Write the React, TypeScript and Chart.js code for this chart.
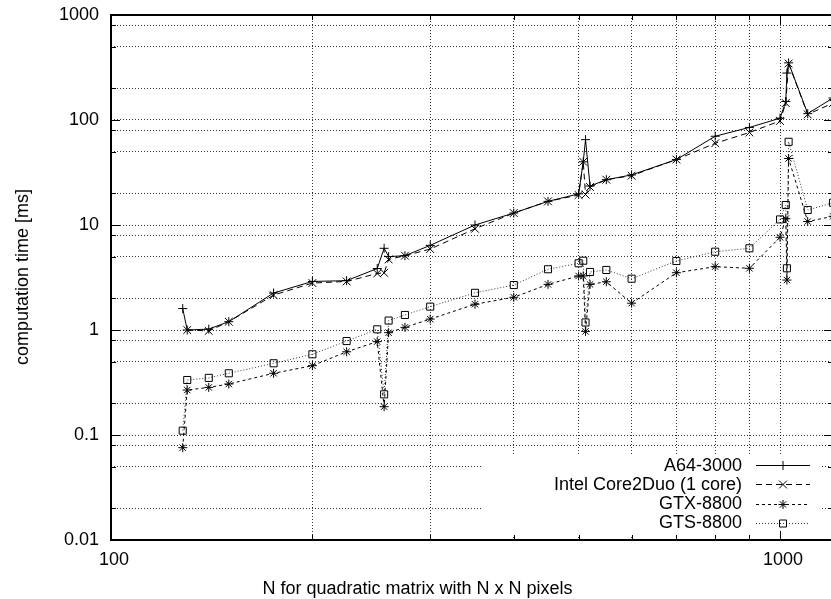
import React, { useEffect, useRef } from 'react';
import { Chart, registerables } from 'chart.js';

Chart.register(...registerables);

// ---- data (N, time in ms) ----
const seriesNames = ['A64-3000', 'Intel Core2Duo (1 core)', 'GTX-8800', 'GTS-8800'];

const a64N = [128, 130, 140, 150, 175, 200, 225, 250, 256, 260, 275, 300, 350, 400, 450, 500, 508, 512, 520, 550, 600, 700, 800, 900, 1000, 1020, 1024, 1030, 1100, 1200];
const a64T = [1.6, 1.0, 1.02, 1.2, 2.25, 2.9, 2.95, 3.85, 6.0, 5.0, 5.1, 6.4, 10, 13, 16.8, 19.8, 40, 65, 23.5, 27, 30, 42, 70, 85, 104, 150, 280, 350, 115, 162];

const core2N = [130, 140, 150, 175, 200, 225, 250, 256, 260, 275, 300, 350, 400, 450, 500, 508, 512, 520, 550, 600, 700, 800, 900, 1000, 1020, 1030, 1100, 1200];
const core2T = [1.0, 0.98, 1.2, 2.15, 2.8, 2.9, 3.45, 3.5, 4.7, 5.1, 5.9, 9.2, 13, 16.8, 19.3, 40, 19.5, 23, 27, 29.5, 42, 60, 76, 98, 145, 345, 113, 145];

const gpuN = [128, 130, 140, 150, 175, 200, 225, 250, 256, 260, 275, 300, 350, 400, 450, 500, 508, 512, 520, 550, 600, 700, 800, 900, 1000, 1020, 1024, 1030, 1100, 1200];
const gtxT = [0.0757, 0.268, 0.284, 0.306, 0.387, 0.457, 0.62, 0.775, 0.186, 0.943, 1.06, 1.27, 1.76, 2.05, 2.72, 3.27, 3.27, 0.97, 2.72, 2.88, 1.8, 3.51, 4.01, 3.87, 7.64, 11.5, 2.99, 43, 10.8, 12.1];
const gtsT = [0.11, 0.334, 0.35, 0.387, 0.482, 0.587, 0.785, 1.015, 0.244, 1.23, 1.39, 1.67, 2.26, 2.68, 3.79, 4.32, 4.57, 1.18, 3.57, 3.73, 3.08, 4.54, 5.57, 6.0, 11.3, 15.5, 3.87, 62, 13.9, 16.3];

// ---- axes ----
const xMin = 100;
const xMax = 1200;
const yMin = 0.01;
const yMax = 1000;
const xGridValues = [100, 200, 300, 400, 500, 600, 700, 800, 900, 1000];
const xTickLabels = ['100', '1000'];
const yGridValues = [
  0.01, 0.02, 0.05, 0.08,
  0.1, 0.2, 0.5, 0.8,
  1, 2, 5, 8,
  10, 20, 50, 80,
  100, 200, 500, 800,
  1000,
];
const yTickLabels = ['0.01', '0.1', '1', '10', '100', '1000'];
const xTitle = 'N for quadratic matrix with N x N pixels';
const yTitle = 'computation time [ms]';

const FONT = '"Liberation Sans", Arial, Helvetica, sans-serif';

type Marker = 'plus' | 'cross' | 'star' | 'square';

function drawMarker(c: CanvasRenderingContext2D, kind: Marker, x: number, y: number) {
  c.beginPath();
  if (kind === 'plus' || kind === 'star') {
    const r = 4.5;
    c.moveTo(x - r, y); c.lineTo(x + r, y);
    c.moveTo(x, y - r); c.lineTo(x, y + r);
  }
  if (kind === 'cross' || kind === 'star') {
    const r = kind === 'cross' ? 3.9 : 3.2;
    c.moveTo(x - r, y - r); c.lineTo(x + r, y + r);
    c.moveTo(x - r, y + r); c.lineTo(x + r, y - r);
  }
  if (kind === 'square') {
    c.rect(x - 3.5, y - 3.5, 7, 7);
  }
  c.stroke();
}

export default function App() {
  const ref = useRef<HTMLCanvasElement>(null);

  useEffect(() => {
    const canvas = ref.current;
    if (!canvas) return;
    const pts = (xs: number[], ys: number[]) => xs.map((x, i) => ({ x, y: ys[i] }));

    const styles = [
      { dash: [] as number[], color: '#000', marker: 'plus' as Marker },
      { dash: [6, 4], color: '#000', marker: 'cross' as Marker },
      { dash: [3, 3], color: '#000', marker: 'star' as Marker },
      { dash: [1, 2], color: '#333', marker: 'square' as Marker },
    ];

    const decor = {
      id: 'gnuplotDecor',
      beforeDatasetsDraw(chart: any) {
        const c = chart.ctx as CanvasRenderingContext2D;
        const a = chart.chartArea;
        c.save();
        c.fillStyle = '#fff';
        c.fillRect(481, 455, a.right - 11 - 481, a.bottom - 3 - 455);
        c.restore();
      },
      afterDraw(chart: any) {
        const c = chart.ctx as CanvasRenderingContext2D;
        const a = chart.chartArea;
        const xs = chart.scales.x;
        const ys = chart.scales.y;
        c.save();
        // ticks
        c.strokeStyle = '#000';
        c.lineWidth = 1;
        c.setLineDash([]);
        c.beginPath();
        xGridValues.forEach((v) => {
          const px = Math.round(xs.getPixelForValue(v)) + 0.5;
          const len = xTickLabels.includes(String(v)) ? 9 : 5;
          c.moveTo(px, a.bottom); c.lineTo(px, a.bottom - len);
          c.moveTo(px, a.top); c.lineTo(px, a.top + len);
        });
        yGridValues.forEach((v) => {
          const py = Math.round(ys.getPixelForValue(v)) + 0.5;
          const len = yTickLabels.includes(String(v)) ? 9 : 5;
          c.moveTo(a.left, py); c.lineTo(a.left + len, py);
          c.moveTo(a.right, py); c.lineTo(a.right - len, py);
        });
        c.stroke();
        // frame
        c.lineWidth = 2;
        c.strokeRect(Math.round(a.left), Math.round(a.top), Math.round(a.right - a.left), Math.round(a.bottom - a.top));

        // legend
        c.font = `18px ${FONT}`;
        c.fillStyle = '#000';
        c.textAlign = 'right';
        c.textBaseline = 'middle';
        const rowY = [465, 484, 503.5, 522.5];
        seriesNames.forEach((name, i) => {
          const y = rowY[i];
          c.fillText(name, 742, y + 1);
          const st = styles[i];
          c.strokeStyle = st.color;
          c.lineWidth = 1;
          c.setLineDash(st.dash);
          c.beginPath();
          c.moveTo(756, Math.round(y) + 0.5);
          c.lineTo(810, Math.round(y) + 0.5);
          c.stroke();
          c.setLineDash([]);
          c.strokeStyle = '#000';
          drawMarker(c, st.marker, 783, Math.round(y) + 0.5);
        });

        // axis titles
        c.fillStyle = '#000';
        c.textAlign = 'center';
        c.textBaseline = 'alphabetic';
        c.fillText(xTitle, 417.5, 594);
        c.translate(28, 277);
        c.rotate(-Math.PI / 2);
        c.fillText(yTitle, 0, 0);
        c.restore();
      },
    };

    const mkDataset = (i: number, xsArr: number[], ysArr: number[], pointStyle: string, radius: number) => ({
      label: seriesNames[i],
      data: pts(xsArr, ysArr),
      borderColor: styles[i].color,
      borderWidth: 1,
      borderDash: styles[i].dash,
      pointStyle,
      pointRadius: radius,
      pointBorderColor: '#000',
      pointBackgroundColor: 'rgba(0,0,0,0)',
      pointBorderWidth: 1,
      tension: 0,
      fill: false,
    });

    const gridColor = 'rgba(0,0,0,0.8)';

    const chart = new Chart(canvas, {
      type: 'line',
      data: {
        datasets: [
          mkDataset(0, a64N, a64T, 'cross', 4.5),
          mkDataset(1, core2N, core2T, 'crossRot', 5.5),
          mkDataset(2, gpuN, gtxT, 'star', 4.5),
          mkDataset(3, gpuN, gtsT, 'rect', 5),
        ],
      },
      options: {
        animation: false,
        responsive: false,
        devicePixelRatio: 1,
        layout: { padding: { left: 0, top: 15, right: 27, bottom: 0 } },
        plugins: {
          legend: { display: false },
          tooltip: { enabled: false },
          title: { display: false },
        },
        font: { family: FONT, size: 18 },
        scales: {
          x: {
            type: 'logarithmic',
            min: xMin,
            max: xMax,
            afterBuildTicks: (scale: any) => {
              scale.ticks = xGridValues.map((v) => ({ value: v }));
            },
            afterFit: (scale: any) => {
              scale.height = 59;
              scale.paddingLeft = 0;
              scale.paddingRight = 0;
            },
            ticks: {
              autoSkip: false,
              maxRotation: 0,
              padding: 9,
              labelOffset: 3,
              color: '#000',
              font: { family: FONT, size: 18 },
              callback: (v: any) => (xTickLabels.includes(String(v)) ? String(v) : ''),
            },
            grid: {
              color: gridColor,
              lineWidth: 1,
              drawTicks: false,
            },
            border: { display: false, dash: [1, 2] },
          },
          y: {
            type: 'logarithmic',
            min: yMin,
            max: yMax,
            afterBuildTicks: (scale: any) => {
              scale.ticks = yGridValues.map((v) => ({ value: v }));
            },
            afterFit: (scale: any) => {
              scale.width = 111;
              scale.paddingTop = 0;
              scale.paddingBottom = 0;
            },
            ticks: {
              autoSkip: false,
              padding: 12,
              color: '#000',
              font: { family: FONT, size: 18 },
              callback: (v: any) => (yTickLabels.includes(String(v)) ? String(v) : ''),
            },
            grid: {
              color: gridColor,
              lineWidth: 1,
              drawTicks: false,
            },
            border: { display: false, dash: [1, 2] },
          },
        },
      } as any,
      plugins: [decor],
    });

    return () => chart.destroy();
  }, []);

  return (
    <div style={{ position: 'fixed', left: 0, top: 0, width: 831, height: 599, overflow: 'hidden', background: '#fff' }}>
      <canvas ref={ref} width={860} height={599} style={{ display: 'block' }} />
    </div>
  );
}
